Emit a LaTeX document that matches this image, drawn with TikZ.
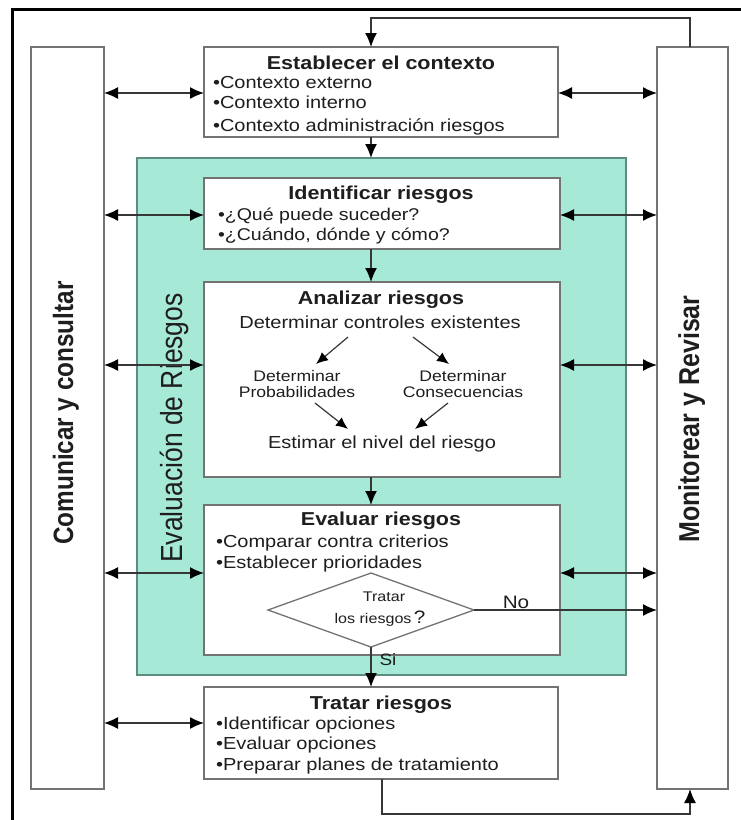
\documentclass[tikz,border=0pt]{standalone}
\usepackage{graphicx}
\usepackage{fontspec}
\setmainfont{Liberation Sans}
\usetikzlibrary{arrows.meta,shapes.geometric}
\definecolor{tealf}{RGB}{166,233,215}
\definecolor{tealb}{RGB}{95,140,128}
\definecolor{boxb}{RGB}{115,115,115}
\definecolor{txtc}{RGB}{30,30,30}
\definecolor{lnc}{RGB}{55,55,55}
\newcommand{\hs}[1]{\scalebox{1.15}[1]{#1}}
\newcommand{\vs}[1]{\scalebox{1}[1.15]{#1}}
\newcommand{\ftitle}{\fontsize{18.7}{22}\selectfont\bfseries}
\newcommand{\fbody}{\fontsize{17.4}{21}\selectfont}
\newcommand{\fident}{\fontsize{17}{21}\selectfont}
\begin{document}
\begin{tikzpicture}[x=1pt,y=-1pt,
  panel/.style={draw=boxb, line width=1.5pt, fill=white, inner sep=0pt, outer sep=0pt, anchor=north west},
  lbl/.style={text=txtc, inner sep=0pt, outer sep=0pt},
  conn/.style={draw=lnc, line width=1.4pt},
  arr/.style={conn, -{Latex[length=14pt,width=12pt,color=black]}},
  dbl/.style={conn, {Latex[length=14pt,width=12pt,color=black]}-{Latex[length=14pt,width=12pt,color=black]}},
  arrs/.style={draw=lnc, line width=1.2pt, -{Latex[length=12pt,width=10.5pt,color=black]}},
]
\useasboundingbox (0,0) rectangle (740,820);
\fill[white] (0,0) rectangle (740,820);
\draw[line width=3pt, black] (12,830) -- (12,9) -- (750,9);

% side panels
\node[panel, minimum width=73pt, minimum height=742pt] (com) at (31,47) {};
\node[panel, minimum width=71pt, minimum height=742pt] (mon) at (657,47) {};
% teal area
\node[draw=tealb, line width=1.5pt, fill=tealf, inner sep=0pt, outer sep=0pt, anchor=north west,
      minimum width=489pt, minimum height=517pt] (eva) at (137,158) {};
% main boxes
\node[panel, minimum width=354pt, minimum height=90pt] (ctx) at (204,47) {};
\node[panel, minimum width=356pt, minimum height=71pt] (idr) at (204,178) {};
\node[panel, minimum width=356pt, minimum height=195pt] (ana) at (204,282) {};
\node[panel, minimum width=356pt, minimum height=150pt] (evr) at (204,505) {};
\node[panel, minimum width=354pt, minimum height=92pt] (trr) at (204,687) {};
\node[draw=boxb, line width=1.3pt, diamond, inner sep=0pt, outer sep=0pt,
      minimum width=206pt, minimum height=74pt] (dec) at (371,610) {};

% rotated labels
\node[lbl, rotate=90, anchor=base] (comt) at (73,413)
  {\fontsize{24.3}{29}\selectfont\bfseries\vs{Comunicar y consultar}};
\node[lbl, rotate=90, anchor=base] (evat) at (182,428)
  {\fontsize{26.5}{32}\selectfont\vs{Evaluación de Riesgos}};
\node[lbl, rotate=90, anchor=base] (mont) at (699,419)
  {\fontsize{25}{30}\selectfont\bfseries\vs{Monitorear y Revisar}};

% Establecer el contexto
\node[lbl] (ctxT) at (381,63) {\ftitle\hs{Establecer el contexto}};
\node[lbl, anchor=base west] (ctx1) at (213,88) {\fbody\hs{•Contexto externo}};
\node[lbl, anchor=base west] (ctx2) at (213,108) {\fbody\hs{•Contexto interno}};
\node[lbl, anchor=base west] (ctx3) at (213,131) {\fbody\hs{•Contexto administración riesgos}};

% Identificar riesgos
\node[lbl] (idrT) at (381,195) {\ftitle\hs{Identificar riesgos}};
\node[lbl, anchor=base west] (idr1) at (218,220) {\fident\hs{•¿Qué puede suceder?}};
\node[lbl, anchor=base west] (idr2) at (218,240) {\fident\hs{•¿Cuándo, dónde y cómo?}};

% Analizar riesgos
\node[lbl] (anaT) at (381,300) {\ftitle\hs{Analizar riesgos}};
\node[lbl] (dce) at (380,322) {\fbody\hs{Determinar controles existentes}};
\node[lbl, align=center, font={\fontsize{15.3}{15.5}\selectfont}] (dp) at (297,384)
  {\hs{Determinar}\\\hs{Probabilidades}};
\node[lbl, align=center, font={\fontsize{15.3}{15.5}\selectfont}] (dc) at (463,384)
  {\hs{Determinar}\\\hs{Consecuencias}};
\node[lbl, anchor=base] (est) at (382,448) {\fbody\hs{Estimar el nivel del riesgo}};
\coordinate (d1s) at (348,337); \coordinate (d1e) at (316,364);
\coordinate (d2s) at (413,337); \coordinate (d2e) at (449,364);
\coordinate (d3s) at (315,403); \coordinate (d3e) at (348,429);
\coordinate (d4s) at (448,403); \coordinate (d4e) at (415,429);
\draw[arrs] (d1s) -- (d1e);
\draw[arrs] (d2s) -- (d2e);
\draw[arrs] (d3s) -- (d3e);
\draw[arrs] (d4s) -- (d4e);

% Evaluar riesgos
\node[lbl] (evrT) at (381,521) {\ftitle\hs{Evaluar riesgos}};
\node[lbl, anchor=base west] (evr1) at (216,547) {\fbody\hs{•Comparar contra criterios}};
\node[lbl, anchor=base west] (evr2) at (216,568) {\fbody\hs{•Establecer prioridades}};
\node[lbl] (decA) at (384,597) {\fontsize{14}{16}\selectfont\hs{Tratar}};
\node[lbl] (decB) at (380,619) {\fontsize{14}{16}\selectfont\hs{los riesgos}\,{\fontsize{18}{18}\selectfont\hs{?}}};
\node[lbl] (no) at (516,602) {\fontsize{18}{20}\selectfont\hs{No}};
\node[lbl] (si) at (388,660) {\fontsize{16.5}{20}\selectfont\hs{Si}};

% Tratar riesgos
\node[lbl] (trrT) at (381,705) {\ftitle\hs{Tratar riesgos}};
\node[lbl, anchor=base west] (trr1) at (216,729) {\fbody\hs{•Identificar opciones}};
\node[lbl, anchor=base west] (trr2) at (216,749) {\fbody\hs{•Evaluar opciones}};
\node[lbl, anchor=base west] (trr3) at (216,770) {\fbody\hs{•Preparar planes de tratamiento}};

% helper coordinates
\coordinate (fx) at (371,0);
\coordinate (yA) at (0,93);
\coordinate (yB) at (0,215);
\coordinate (yC) at (0,365);
\coordinate (yD) at (0,573);
\coordinate (yE) at (0,723);
\coordinate (fbT) at (690,18);
\coordinate (fbB) at (382,814);
\coordinate (fbR) at (690,814);

% vertical flow
\draw[arr] (mon.north -| fbT) -- (fbT) -- (fbT -| fx) -- (ctx.north -| fx);
\draw[arr] (ctx.south -| fx) -- (eva.north -| fx);
\draw[arr] (idr.south -| fx) -- (ana.north -| fx);
\draw[arr] (ana.south -| fx) -- (evr.north -| fx);
\draw[arr] (dec.south) -- (trr.north -| dec.south);
\draw[arr] (dec.east) -- (mon.west |- dec.east);
\draw[arr] (trr.south -| fbB) -- (fbB) -- (fbR) -- (mon.south -| fbR);

% horizontal double arrows
\draw[dbl] (com.east |- yA) -- (ctx.west |- yA);
\draw[dbl] (ctx.east |- yA) -- (mon.west |- yA);
\draw[dbl] (com.east |- yB) -- (idr.west |- yB);
\draw[dbl] (idr.east |- yB) -- (mon.west |- yB);
\draw[dbl] (com.east |- yC) -- (ana.west |- yC);
\draw[dbl] (ana.east |- yC) -- (mon.west |- yC);
\draw[dbl] (com.east |- yD) -- (evr.west |- yD);
\draw[dbl] (evr.east |- yD) -- (mon.west |- yD);
\draw[dbl] (com.east |- yE) -- (trr.west |- yE);
\end{tikzpicture}
\end{document}
